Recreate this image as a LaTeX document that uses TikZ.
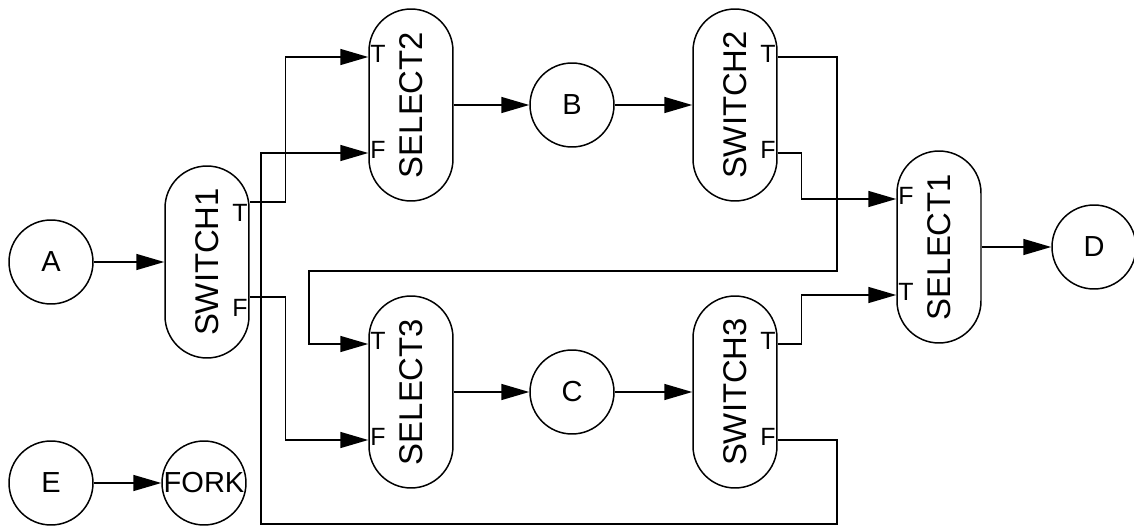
\documentclass[tikz,border=0pt]{standalone}
\usepackage{fontspec}
\setmainfont{Liberation Sans}
\usepackage{tikz}
\usetikzlibrary{arrows.meta,positioning,calc}
\tikzset{
  actor/.style={circle, draw, line width=0.85pt, minimum size=1.68cm,
                inner sep=0pt, font=\fontsize{16.5}{18}\selectfont},
  gate/.style={draw, line width=0.85pt, rounded corners=0.84cm,
               minimum width=1.68cm, minimum height=3.84cm, inner sep=0pt,
               font=\fontsize{18.7}{20}\selectfont},
  port/.style={inner sep=1pt, font=\fontsize{14.2}{15}\selectfont},
  wire/.style={line width=0.85pt, -{Triangle[length=0.56cm,width=0.32cm]}}
}

\begin{document}
\begin{tikzpicture}[x=0.02cm, y=-0.02cm]
  \useasboundingbox (0,0) rectangle (1134,527);
  % actors
  \node[actor] (A)    at (51,262)   {A};
  \node[actor] (E)    at (51,483)   {E};
  \node[actor] (fork) at (204,483)  {\makebox[0pt]{FORK}};
  \node[actor] (B)    at (572,105)  {B};
  \node[actor] (C)    at (572,392)  {C};
  \node[actor] (D)    at (1094,247) {D};
  % switches and selects
  \node[gate] (sw1)  at (207,262) {\rotatebox{90}{SWITCH1}};
  \node[gate] (sel2) at (411,105) {\rotatebox{90}{SELECT2}};
  \node[gate] (sel3) at (411,392) {\rotatebox{90}{SELECT3}};
  \node[gate] (sw2)  at (735,105) {\rotatebox{90}{SWITCH2}};
  \node[gate] (sw3)  at (735,392) {\rotatebox{90}{SWITCH3}};
  \node[gate] (sel1) at (939,247) {\rotatebox{90}{SELECT1}};
  % ports
  \coordinate (sw1T)  at ($(sw1.east)+(0,-60)$);
  \coordinate (sw1F)  at ($(sw1.east)+(0,35)$);
  \coordinate (sel2T) at ($(sel2.west)+(0,-48)$);
  \coordinate (sel2F) at ($(sel2.west)+(0,48)$);
  \coordinate (sel3T) at ($(sel3.west)+(0,-48)$);
  \coordinate (sel3F) at ($(sel3.west)+(0,48)$);
  \coordinate (sw2T)  at ($(sw2.east)+(0,-48)$);
  \coordinate (sw2F)  at ($(sw2.east)+(0,48)$);
  \coordinate (sw3T)  at ($(sw3.east)+(0,-48)$);
  \coordinate (sw3F)  at ($(sw3.east)+(0,48)$);
  \coordinate (sel1F) at ($(sel1.west)+(0,-48)$);
  \coordinate (sel1T) at ($(sel1.west)+(0,48)$);
  \node[port, anchor=north east] at (sw1T) {T};
  \node[port, anchor=north east] at (sw1F) {F};
  \node[port, anchor=west] at ($(sel2T)+(0,-3)$) {T};
  \node[port, anchor=west] at ($(sel2F)+(0,-3)$) {F};
  \node[port, anchor=west] at ($(sel3T)+(0,-3)$) {T};
  \node[port, anchor=west] at ($(sel3F)+(0,-3)$) {F};
  \node[port, anchor=east] at ($(sw2T)+(0,-3)$) {T};
  \node[port, anchor=east] at ($(sw2F)+(0,-3)$) {F};
  \node[port, anchor=east] at ($(sw3T)+(0,-3)$) {T};
  \node[port, anchor=east] at ($(sw3F)+(0,-3)$) {F};
  \node[port, anchor=west] at ($(sel1F)+(0,-3)$) {F};
  \node[port, anchor=west] at ($(sel1T)+(0,-3)$) {T};
  % data flow
  \draw[wire] (A) -- (sw1);
  \draw[wire] (E) -- (fork);
  \draw[wire] (sel2) -- (B);
  \draw[wire] (B) -- (sw2);
  \draw[wire] (sel3) -- (C);
  \draw[wire] (C) -- (sw3);
  \draw[wire] (sel1) -- (D);
  \draw[wire] (sw1T) -- ++(36,0) |- (sel2T);
  \draw[wire] (sw1F) -- ++(36,0) |- (sel3F);
  \draw[wire] (sw2F) -- ++(24,0) |- (sel1F);
  \draw[wire] (sw3T) -- ++(24,0) |- (sel1T);
  % loops back
  \draw[wire] (sw2T) -| (837,271) -| (309,344) -- (sel3T);
  \draw[wire] (sw3F) -| (837,524) -| (261,153) -- (sel2F);
\end{tikzpicture}
\end{document}
